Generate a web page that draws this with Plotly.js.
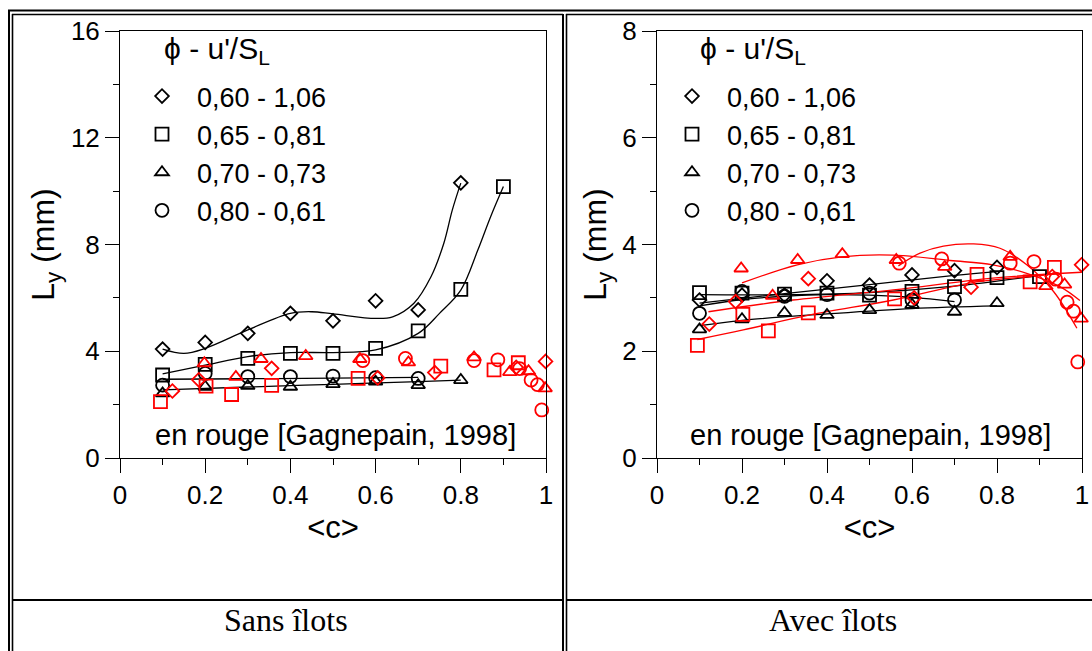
<!DOCTYPE html>
<html><head><meta charset="utf-8">
<script src="https://cdn.plot.ly/plotly-3.0.1.min.js"></script>
<style>html,body{margin:0;padding:0;background:#fff}#chart{width:1092px;height:651px}</style>
</head><body><div id="chart"></div><script>
// ---------- data : left panel "Sans îlots" (black) ----------
const sans_diam_x = [0.1,0.2,0.3,0.4,0.5,0.6,0.7,0.8];
const sans_diam_y = [4.08,4.33,4.67,5.42,5.14,5.89,5.55,10.31];
const sans_sq_x   = [0.1,0.2,0.3,0.4,0.5,0.6,0.7,0.8,0.9];
const sans_sq_y   = [3.11,3.51,3.73,3.92,3.92,4.11,4.76,6.32,10.17];
const sans_tri_x  = [0.1,0.2,0.3,0.4,0.5,0.6,0.7,0.8];
const sans_tri_y  = [2.42,2.67,2.70,2.67,2.77,2.86,2.73,2.92];
const sans_circ_x = [0.1,0.2,0.3,0.4,0.5,0.6,0.7];
const sans_circ_y = [2.73,3.17,3.05,3.05,3.07,3.01,2.98];
// fitted curves
const sans_diamFit_x = [0.1,0.15,0.2,0.3,0.4,0.45,0.5,0.6,0.64,0.69,0.73,0.76,0.78,0.8];
const sans_diamFit_y = [4.08,3.92,4.11,4.80,5.42,5.48,5.40,5.23,5.29,5.80,6.79,8.04,9.29,10.3];
const sans_sqFit_x = [0.1,0.2,0.3,0.4,0.5,0.6,0.7,0.75,0.8,0.84,0.87,0.9];
const sans_sqFit_y = [3.15,3.48,3.80,3.95,3.95,4.05,4.67,5.42,6.29,7.79,9.04,10.17];
const sans_triFit_x = [0.1,0.3,0.5,0.7,0.8];
const sans_triFit_y = [2.55,2.66,2.76,2.86,2.92];
const sans_circFit_x = [0.1,0.3,0.5,0.7];
const sans_circFit_y = [2.95,2.97,2.99,3.02];

// ---------- data : right panel "Avec îlots" (black) ----------
const avec_diam_x = [0.1,0.2,0.3,0.4,0.5,0.6,0.7,0.8];
const avec_diam_y = [2.96,3.05,3.05,3.32,3.24,3.43,3.51,3.57];
const avec_sq_x   = [0.1,0.2,0.3,0.4,0.5,0.6,0.7,0.8,0.9];
const avec_sq_y   = [3.10,3.09,3.07,3.09,3.05,3.12,3.21,3.38,3.40];
const avec_tri_x  = [0.1,0.2,0.3,0.4,0.5,0.6,0.7,0.8];
const avec_tri_y  = [2.41,2.60,2.72,2.68,2.77,2.87,2.74,2.90];
const avec_circ_x = [0.1,0.2,0.3,0.4,0.5,0.6,0.7];
const avec_circ_y = [2.71,3.12,3.03,3.06,3.09,2.96,2.96];
const avec_diamFit_x = [0.1,0.3,0.5,0.7,0.8];
const avec_diamFit_y = [2.90,3.08,3.25,3.42,3.49];
const avec_sqFit_x = [0.1,0.3,0.5,0.7,0.9];
const avec_sqFit_y = [3.06,3.06,3.10,3.22,3.42];
const avec_triFit_x = [0.1,0.2,0.4,0.6,0.8];
const avec_triFit_y = [2.48,2.58,2.70,2.80,2.85];
const avec_circFit_x = [0.1,0.2,0.3,0.4,0.5,0.6,0.7];
const avec_circFit_y = [2.85,2.97,3.03,3.06,3.05,3.01,2.93];

// ---------- data : Gagnepain 1998 (red, both panels) ----------
const gag_diam_x = [0.123,0.185,0.356,0.605,0.739,0.93,0.999];
const gag_diam_y = [2.51,2.93,3.36,3.0,3.2,3.40,3.62];
const gag_sq_x   = [0.095,0.202,0.262,0.356,0.559,0.753,0.878,0.935];
const gag_sq_y   = [2.11,2.69,2.38,2.72,2.98,3.44,3.30,3.57];
const gag_tri_x  = [0.198,0.272,0.331,0.436,0.563,0.677,0.831,0.915,0.959,0.998];
const gag_tri_y  = [3.55,3.04,3.71,3.82,3.71,3.58,3.77,3.22,3.25,2.61];
const gag_circ_x = [0.57,0.67,0.831,0.887,0.938,0.965,0.98,0.99];
const gag_circ_y = [3.65,3.73,3.65,3.68,3.35,2.92,2.75,1.80];
// red fitted curves (right panel only)
const gag_triFit_x = [0.2,0.33,0.435,0.556,0.69,0.79,0.87,0.948,0.995];
const gag_triFit_y = [3.28,3.62,3.77,3.80,3.70,3.62,3.46,3.21,2.95];
const gag_circFit_x = [0.568,0.619,0.674,0.745,0.807,0.87,0.933,0.988];
const gag_circFit_y = [3.60,3.84,3.97,4.01,3.93,3.62,3.12,2.43];
const gag_sqFit_x = [0.095,0.203,0.36,0.556,0.752,0.893,0.935];
const gag_sqFit_y = [2.22,2.40,2.68,2.96,3.30,3.41,3.45];
const gag_diamFit_x = [0.121,0.32,0.556,0.79,0.999];
const gag_diamFit_y = [2.74,2.96,3.15,3.37,3.48];

// ---------- labels ----------
const seriesNames = ['0,60 - 1,06','0,65 - 0,81','0,70 - 0,73','0,80 - 0,61'];
const legendTitle = 'ϕ - u\'/S<sub>L</sub>';
const panelTitles = ['Sans îlots','Avec îlots'];
const noteText = 'en rouge [Gagnepain, 1998]';
const xTickVals = [0,0.2,0.4,0.6,0.8,1];
const xTickText = ['0','0.2','0.4','0.6','0.8','1'];

// ---------- build ----------
const W = 1092, H = 651;
const px = p => p / W, py = p => 1 - p / H;
const BLACK = '#000', RED = '#ff0000';
const symbols = ['diamond-open','square-open','triangle-up-open','circle-open'];
const msize = {'diamond-open':10.5,'square-open':13,'triangle-up-open':12,'circle-open':13};

function markers(x, y, sym, color, ax, name, legend, show) {
  return {x, y, type:'scatter', mode:'markers', xaxis:ax[0], yaxis:ax[1], cliponaxis:false,
    name: name || '', legend: legend || 'legend', showlegend: !!show,
    marker:{symbol:sym, size:msize[sym], color:color, line:{color:color, width:1.8}}};
}
function curve(x, y, color, ax) {
  return {x, y, type:'scatter', mode:'lines', xaxis:ax[0], yaxis:ax[1], showlegend:false,
    line:{color:color, width:1.3, shape:'spline', smoothing:1}, hoverinfo:'skip'};
}
const A1 = ['x','y'], A2 = ['x2','y2'];
const traces = [
  curve(sans_diamFit_x, sans_diamFit_y, BLACK, A1),
  curve(sans_sqFit_x, sans_sqFit_y, BLACK, A1),
  curve(sans_triFit_x, sans_triFit_y, BLACK, A1),
  curve(sans_circFit_x, sans_circFit_y, BLACK, A1),
  markers(sans_diam_x, sans_diam_y, symbols[0], BLACK, A1, seriesNames[0], 'legend', true),
  markers(sans_sq_x, sans_sq_y, symbols[1], BLACK, A1, seriesNames[1], 'legend', true),
  markers(sans_tri_x, sans_tri_y, symbols[2], BLACK, A1, seriesNames[2], 'legend', true),
  markers(sans_circ_x, sans_circ_y, symbols[3], BLACK, A1, seriesNames[3], 'legend', true),
  markers(gag_diam_x, gag_diam_y, symbols[0], RED, A1),
  markers(gag_sq_x, gag_sq_y, symbols[1], RED, A1),
  markers(gag_tri_x, gag_tri_y, symbols[2], RED, A1),
  markers(gag_circ_x, gag_circ_y, symbols[3], RED, A1),

  curve(avec_diamFit_x, avec_diamFit_y, BLACK, A2),
  curve(avec_sqFit_x, avec_sqFit_y, BLACK, A2),
  curve(avec_triFit_x, avec_triFit_y, BLACK, A2),
  curve(avec_circFit_x, avec_circFit_y, BLACK, A2),
  curve(gag_triFit_x, gag_triFit_y, RED, A2),
  curve(gag_circFit_x, gag_circFit_y, RED, A2),
  curve(gag_sqFit_x, gag_sqFit_y, RED, A2),
  curve(gag_diamFit_x, gag_diamFit_y, RED, A2),
  markers(avec_diam_x, avec_diam_y, symbols[0], BLACK, A2, seriesNames[0], 'legend2', true),
  markers(avec_sq_x, avec_sq_y, symbols[1], BLACK, A2, seriesNames[1], 'legend2', true),
  markers(avec_tri_x, avec_tri_y, symbols[2], BLACK, A2, seriesNames[2], 'legend2', true),
  markers(avec_circ_x, avec_circ_y, symbols[3], BLACK, A2, seriesNames[3], 'legend2', true),
  markers(gag_diam_x, gag_diam_y, symbols[0], RED, A2),
  markers(gag_sq_x, gag_sq_y, symbols[1], RED, A2),
  markers(gag_tri_x, gag_tri_y, symbols[2], RED, A2),
  markers(gag_circ_x, gag_circ_y, symbols[3], RED, A2)
];

const FONT = 'Liberation Sans, Arial, sans-serif';
const tickFont = {family:FONT, size:26, color:BLACK};
function xax(domain, anchor) {
  return {domain, anchor, range:[0,1], tickvals:xTickVals, ticktext:xTickText,
    showline:true, linecolor:BLACK, linewidth:1, mirror:true, showgrid:false, zeroline:false,
    ticks:'outside', ticklen:14, tickwidth:1, tickcolor:BLACK, tickfont:tickFont,
    minor:{dtick:0.1, ticks:'outside', ticklen:6, tickwidth:1, tickcolor:BLACK, showgrid:false},
    title:{text:'&lt;c&gt;', font:{family:FONT, size:31, color:BLACK}, standoff:4}};
}
function yax(domain, anchor, max, dt) {
  return {domain, anchor, range:[0,max], dtick:dt, tick0:0,
    showline:true, linecolor:BLACK, linewidth:1, mirror:true, showgrid:false, zeroline:false,
    ticks:'outside', ticklen:14, tickwidth:1, tickcolor:BLACK, tickfont:tickFont,
    minor:{dtick:dt/2, ticks:'outside', ticklen:6, tickwidth:1, tickcolor:BLACK, showgrid:false},
    title:{text:'L<sub>y</sub> (mm)', font:{family:FONT, size:32, color:BLACK}, standoff:6}};
}
const ydom = [py(458), py(31)];
function legendCfg(xpx) {
  return {x:px(xpx), xanchor:'left', y:py(72), yanchor:'top', bgcolor:'rgba(0,0,0,0)',
    borderwidth:0, itemwidth:60, font:{family:FONT, size:27, color:BLACK},
    itemclick:false, itemdoubleclick:false};
}
function ln(x0,y0,x1,y1,w){return {type:'line', xref:'paper', yref:'paper', x0:px(x0), y0:py(y0), x1:px(x1), y1:py(y1), line:{color:BLACK, width:w}};}
const shapes = [
  ln(8,10.5,1092,10.5,2), ln(12,14.5,563,14.5,1.6), ln(566,14.5,1092,14.5,1.6),
  ln(9,10,9,651,2), ln(12.5,14,12.5,651,1.6),
  ln(563,14,563,651,2), ln(566.5,14,566.5,651,1.6),
  ln(12,600,563,600,2), ln(566,600,1092,600,2)
];
const noteFont = {family:FONT, size:29, color:BLACK};
const serif = {family:'Liberation Serif, Times New Roman, serif', size:32, color:BLACK};
const titleFont = {family:FONT, size:30, color:BLACK};
const annotations = [
  {xref:'paper', yref:'paper', x:px(162), y:py(51), text:legendTitle, showarrow:false,
   xanchor:'left', yanchor:'middle', font:titleFont},
  {xref:'paper', yref:'paper', x:px(698), y:py(51), text:legendTitle, showarrow:false,
   xanchor:'left', yanchor:'middle', font:titleFont},
  {xref:'x domain', yref:'y domain', x:0.505, y:0.054, text:noteText, showarrow:false,
   xanchor:'center', yanchor:'middle', font:noteFont},
  {xref:'x2 domain', yref:'y2 domain', x:0.502, y:0.054, text:noteText, showarrow:false,
   xanchor:'center', yanchor:'middle', font:noteFont},
  {xref:'paper', yref:'paper', x:px(286), y:py(620), text:panelTitles[0], showarrow:false,
   xanchor:'center', yanchor:'middle', font:serif},
  {xref:'paper', yref:'paper', x:px(833), y:py(620), text:panelTitles[1], showarrow:false,
   xanchor:'center', yanchor:'middle', font:serif}
];
const layout = {
  width:W, height:H, margin:{l:0,r:0,t:0,b:0}, paper_bgcolor:'#fff', plot_bgcolor:'#fff',
  font:{family:FONT, color:BLACK},
  xaxis:xax([px(120),px(546)],'y'), yaxis:yax(ydom,'x',16,4),
  xaxis2:xax([px(657),px(1082)],'y2'), yaxis2:yax(ydom,'x2',8,2),
  legend:legendCfg(127), legend2:legendCfg(657),
  shapes, annotations, hovermode:false
};
Plotly.newPlot('chart', traces, layout, {displayModeBar:false, staticPlot:true});
</script></body></html>
